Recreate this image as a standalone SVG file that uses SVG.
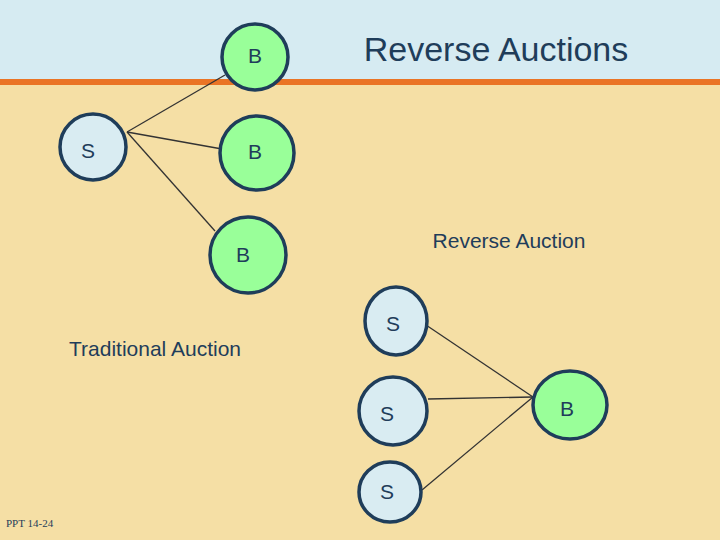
<svg xmlns="http://www.w3.org/2000/svg" width="720" height="540" viewBox="0 0 720 540">
<style>
.s{fill:#d9ecf2;stroke:#1f3d5a;stroke-width:3.5}
.b{fill:#99ff99;stroke:#1f3d5a;stroke-width:3.5}
.t{font-family:"Liberation Sans",Arial,sans-serif;fill:#1f3d5a;text-anchor:middle}
.c line{stroke:#333;stroke-width:1.3}
</style>
<rect width="720" height="540" fill="#f5dfa5"/>
<rect width="720" height="79" fill="#d6ebf2"/>
<rect y="79" width="720" height="6" fill="#ea7425"/>
<text x="496" y="61" class="t" font-size="34" fill="#1f3d5a">Reverse Auctions</text>
<g class="c">
<line x1="127" y1="132" x2="225" y2="75"/>
<line x1="127" y1="132" x2="222" y2="149"/>
<line x1="127" y1="132" x2="215" y2="231"/>
<line x1="426" y1="325" x2="533" y2="397"/>
<line x1="428" y1="399" x2="533" y2="397"/>
<line x1="422" y1="490" x2="533" y2="397"/>
</g>
<g id="s0"><circle class="s" cx="93" cy="147" r="33"/><text class="t" x="88" y="158" font-size="21">S</text></g>
<g id="b1"><circle class="b" cx="255" cy="57" r="33"/><text class="t" x="255" y="63" font-size="21">B</text></g>
<g id="b2"><circle class="b" cx="257" cy="153" r="37"/><text class="t" x="255" y="159" font-size="21">B</text></g>
<g id="b3"><circle class="b" cx="248" cy="255" r="38"/><text class="t" x="243" y="262" font-size="21">B</text></g>
<g id="s1"><ellipse class="s" cx="396" cy="321" rx="31" ry="34"/><text class="t" x="393" y="331" font-size="21">S</text></g>
<g id="s2"><circle class="s" cx="393" cy="411" r="34"/><text class="t" x="387" y="421" font-size="21">S</text></g>
<g id="s3"><ellipse class="s" cx="390" cy="492" rx="31" ry="30"/><text class="t" x="387" y="499" font-size="21">S</text></g>
<g id="bb"><ellipse class="b" cx="570" cy="405" rx="37" ry="34"/><text class="t" x="567" y="416" font-size="21">B</text></g>
<text class="t" x="509" y="248" font-size="21">Reverse Auction</text>
<text class="t" x="155" y="356" font-size="21">Traditional Auction</text>
<text x="6" y="527" font-family="Liberation Serif,serif" font-size="11" fill="#1f3d5a">PPT 14-24</text>
</svg>
